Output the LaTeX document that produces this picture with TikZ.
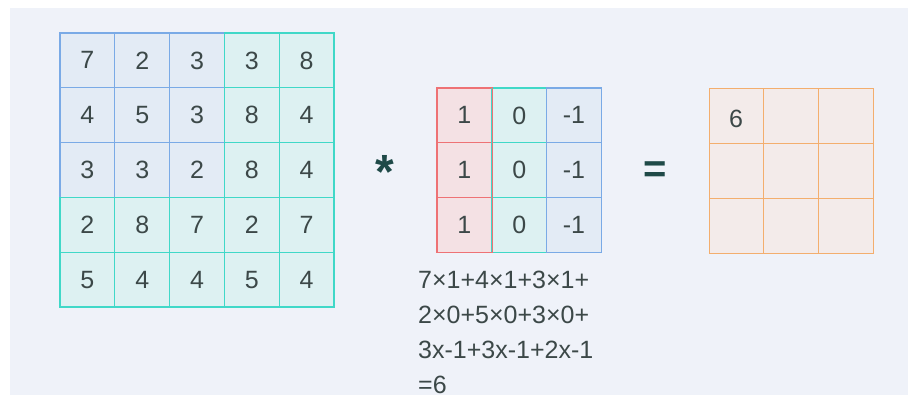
\documentclass[tikz,border=0pt]{standalone}
\usepackage{fontspec}
\setmainfont{Liberation Sans}
\begin{document}
\begin{tikzpicture}[x=1pt,y=-1pt,
  bcell/.style={draw=blueline, fill=blueback, line width=1.1pt, minimum size=54.8pt, inner sep=0pt, text=numtext, font=\fontsize{25}{28}\selectfont},
  tcell/.style={bcell, draw=tealline, fill=tealback},
  rcell/.style={bcell, draw=redline, fill=redback},
  ocell/.style={bcell, draw=orangeline, fill=orangeback, line width=1pt},
  optext/.style={text=opcolor, inner sep=0pt},
  calc/.style={text=numtext, font=\fontsize{25}{35}\selectfont, anchor=north west, align=left, inner sep=0pt}
]
\definecolor{bgc}{HTML}{EFF2F9}
\definecolor{blueback}{HTML}{E3EBF5}
\definecolor{blueline}{HTML}{7AAAE6}
\definecolor{tealback}{HTML}{DDF1F2}
\definecolor{tealline}{HTML}{40D8C8}
\definecolor{redback}{HTML}{F4E1E4}
\definecolor{redline}{HTML}{EE7275}
\definecolor{orangeback}{HTML}{F3EBEA}
\definecolor{orangeline}{HTML}{F3AE6E}
\definecolor{numtext}{HTML}{3C4848}
\definecolor{opcolor}{HTML}{1F4A48}
\useasboundingbox (0,0) rectangle (910,395);
\fill[white] (0,0) rectangle (910,395);
\fill[bgc] (10,8) rectangle (908,395);
\def\cw{54.8}
% input 5x5 grid: blue cells first, teal cells on top
\foreach \r/\row in {1/{7,2,3},2/{4,5,3},3/{3,3,2}}{
  \foreach \v [count=\c] in \row {
    \node[bcell] (a\r\c) at ({60+(\c-0.5)*\cw},{33+(\r-0.5)*\cw}) {\v};
  }
}
\foreach \r/\row in {1/{7,2,3,3,8},2/{4,5,3,8,4},3/{3,3,2,8,4},4/{2,8,7,2,7},5/{5,4,4,5,4}}{
  \foreach \v [count=\c] in \row {
    \pgfmathsetmacro{\isblue}{(\r<4 && \c<4) ? 1 : 0}
    \ifnum\isblue=0
      \node[tcell] (a\r\c) at ({60+(\c-0.5)*\cw},{33+(\r-0.5)*\cw}) {\v};
    \fi
  }
}
% operator
\node[optext] (star) at (385,172) {\fontsize{48}{48}\selectfont\bfseries\raisebox{-0.28em}{*}};
% kernel
\foreach \r in {1,2,3}{
  \node[rcell] (k\r1) at ({437+0.5*\cw},{88+(\r-0.5)*\cw}) {1};
  \node[tcell] (k\r2) at ({437+1.5*\cw},{88+(\r-0.5)*\cw}) {0};
  \node[bcell] (k\r3) at ({437+2.5*\cw},{88+(\r-0.5)*\cw}) {-1};
}
\draw[redline, line width=1.1pt] (k11.north west) rectangle (k31.south east);
\node[optext] (eq) at (655,172) {\fontsize{40}{40}\selectfont\bfseries =};
% output
\foreach \r in {1,2,3}{
  \foreach \c in {1,2,3}{
    \node[ocell] (o\r\c) at ({709+(\c-0.5)*\cw},{89+(\r-0.5)*\cw}) {};
  }
}
\node[text=numtext, font=\fontsize{25}{28}\selectfont] (six) at (736,119) {6};
% calculation
\node[calc] (calctext) at (418,271) {7×1+4×1+3×1+\\2×0+5×0+3×0+\\3x-1+3x-1+2x-1\\=6};
\end{tikzpicture}
\end{document}
